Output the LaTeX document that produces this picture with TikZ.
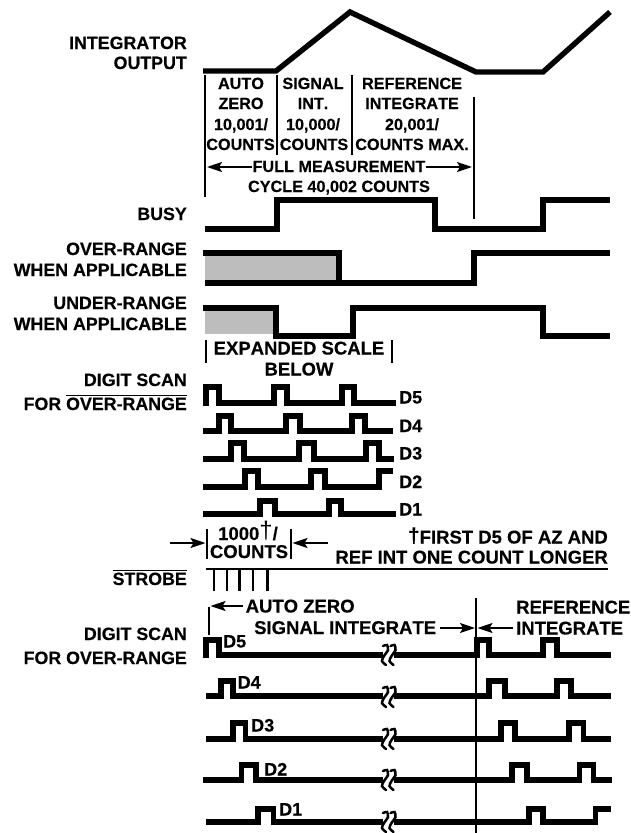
\documentclass[tikz,border=0pt]{standalone}
\usepackage{fontspec}
\setmainfont{Liberation Sans}[Kerning=Off,BoldFeatures={Kerning=Off,FakeBold=0.35}]
\usetikzlibrary{arrows.meta}
\newcommand\ovl[1]{\leavevmode\setbox0\hbox{#1}\rlap{\raisebox{\dimexpr\ht0+1.2pt}{\rule{\wd0}{1.6pt}}}\box0}
\newcommand\brksym[2]{%
  \fill[white] (#1-0.5,#2-4) rectangle (#1+11,#2+4);
  \foreach \dx in {0,7.5}{
    \draw[squig,xshift=\dx pt] plot[smooth] coordinates {(#1+0,#2-9) (#1+4,#2-10) (#1+5,#2-5) (#1+1,#2+1) (#1-1,#2+6) (#1+3,#2+10)};
  }}
\tikzset{
  x=1pt,y=-1pt,
  wave/.style={line width=5.4pt,miter limit=10,join=miter},
  thinv/.style={line width=1.8pt},
  squig/.style={line width=2.5pt,line cap=round},
  strobe/.style={line width=2.8pt},
  darrow/.style={line width=1.8pt,-{Stealth[length=15pt,width=10pt,inset=3pt]}},
  lab/.style={inner sep=0pt,font=\bfseries\fontsize{17.8}{20}\selectfont,anchor=base east},
  head/.style={inner sep=0pt,font=\bfseries\fontsize{16.2}{19}\selectfont,anchor=base},
  txt/.style={inner sep=0pt,font=\bfseries\fontsize{18.5}{20}\selectfont,anchor=base},
  txtl/.style={txt,anchor=base west},
  dname/.style={inner sep=0pt,font=\bfseries\fontsize{18}{20}\selectfont,anchor=base west},
  hatchfill/.style={fill=black!26,draw=none}
}
\begin{document}
\begin{tikzpicture}
\useasboundingbox (0,0) rectangle (631,833);
% left labels
\node[lab] (l1) at (187,49) {INTEGRATOR};
\node[lab] (l2) at (187,69) {OUTPUT};
\node[lab] (l3) at (187,220) {BUSY};
\node[lab] (l4) at (187,255) {OVER-RANGE};
\node[lab] (l5) at (187,276) {WHEN APPLICABLE};
\node[lab] (l6) at (187,309) {UNDER-RANGE};
\node[lab] (l7) at (187,330) {WHEN APPLICABLE};
\node[lab] (l8) at (187,386) {DIGIT SCAN};
\node[lab] (l9) at (187,410) {FOR \ovl{OVER-RANGE}};
\node[lab] (l10) at (187,585) {\ovl{STROBE}};
\node[lab] (l11) at (187,640) {DIGIT SCAN};
\node[lab] (l12) at (187,664) {FOR OVER-RANGE};
% integrator
\draw[wave] (203,71) -- (276,71) -- (350,12) -- (476,72) -- (543,72) -- (610,12);
\draw[thinv] (205,75) -- (205,197);
\draw[thinv] (277,75) -- (277,155);
\draw[thinv] (352,75) -- (352,155);
\draw[thinv] (474,97) -- (474,219);
\node[head] (a1) at (241,89) {AUTO};
\node[head] (a2) at (241,109) {ZERO};
\node[head] (a3) at (241,130) {10,001/};
\node[head] (a4) at (240.5,150) {COUNTS};
\node[head] (b1) at (313,89) {SIGNAL};
\node[head] (b2) at (313,109) {INT.};
\node[head] (b3) at (313,130) {10,000/};
\node[head] (b4) at (314,150) {COUNTS};
\node[head] (c1) at (412,89) {REFERENCE};
\node[head] (c2) at (412,109) {INTEGRATE};
\node[head] (c3) at (412,130) {20,001/};
\node[head] (c4) at (412,150) {COUNTS MAX.};
\node[head] (f1) at (339,172) {FULL MEASUREMENT};
\node[head] (f2) at (339,192) {CYCLE 40,002 COUNTS};
\coordinate (fl) at (207,167);
\coordinate (fr) at (472,167);
\draw[darrow] (f1.west |- fl) -- (fl);
\draw[darrow] (f1.east |- fr) -- (fr);
% busy
\draw[wave] (205,229) -- (277,229) -- (277,200) -- (435,200) -- (435,229) -- (543,229) -- (543,200) -- (610,200);
% over-range
\fill[hatchfill] (205,256) rectangle (336,281);
\draw[wave] (203,253) -- (339,253) -- (339,283) -- (474,283) -- (474,253) -- (610,253);
\draw[wave] (205,283) -- (339,283);
% under-range
\fill[hatchfill] (205,311) rectangle (273,334);
\draw[wave] (203,308) -- (276,308) -- (276,336) -- (353,336) -- (353,308) -- (543,308) -- (543,336) -- (610,336);
% expanded scale
\draw[thinv] (206,340) -- (206,363);
\draw[thinv] (392,340) -- (392,363);
\node[txt] (e1) at (299,354.5) {EXPANDED SCALE};
\node[txt] (e2) at (299,375.5) {BELOW};
% digit scan top
\draw[wave] (206,406) -- (206,387) -- (219,387) -- (219,403) -- (274,403) -- (274,387) -- (287,387) -- (287,403) -- (342,403) -- (342,387) -- (354,387) -- (354,403) -- (396,403);
\draw[wave] (203,431) -- (219,431) -- (219,416) -- (231,416) -- (231,431) -- (286,431) -- (286,416) -- (300,416) -- (300,431) -- (352,431) -- (352,416) -- (365,416) -- (365,431) -- (393,431);
\draw[wave] (203,459) -- (231,459) -- (231,443) -- (244,443) -- (244,459) -- (299,459) -- (299,443) -- (314,443) -- (314,459) -- (366,459) -- (366,443) -- (379,443) -- (379,459) -- (393.5,459);
\draw[wave] (203,487) -- (245,487) -- (245,471) -- (258,471) -- (258,487) -- (311,487) -- (311,471) -- (325,471) -- (325,487) -- (379,487) -- (379,471) -- (393,471);
\draw[wave] (203,514) -- (260,514) -- (260,501) -- (275,501) -- (275,514) -- (329,514) -- (329,501) -- (341,501) -- (341,514) -- (396,514);
\node[dname] (d5) at (399,403.5) {D5};
\node[dname] (d4) at (399,432) {D4};
\node[dname] (d3) at (399,459.5) {D3};
\node[dname] (d2) at (399,488) {D2};
\node[dname] (d1) at (399,515.5) {D1};
% 1000 counts
\node[txt] (k1) at (248,540) {1000\raisebox{1.5pt}{\mdseries\fontsize{24}{24}\selectfont †}/};
\node[txt] (k2) at (249,558) {COUNTS};
\draw[thinv] (207,529) -- (207,559);
\draw[thinv] (291,529) -- (291,559);
\coordinate (kl) at (170,543);
\coordinate (kr) at (328,543);
\draw[darrow] (kl) -- (205.5,543);
\draw[darrow] (kr) -- (292.5,543);
\node[txt,anchor=base east] (n1) at (608,543.5) {\raisebox{1pt}{\fontsize{21}{21}\selectfont †}FIRST D5 OF AZ AND};
\node[txt,anchor=base east] (n2) at (608,563.5) {REF INT ONE COUNT LONGER};
% strobe
\draw[line width=2.6pt] (206,569) -- (608,569);
\foreach \x in {214,227,239.5,253,267.5}{\draw[strobe] (\x,569) -- (\x,591);}
% labels lower
\draw[thinv] (209,607) -- (209,635);
\node[txtl] (z1) at (245.5,612.5) {AUTO ZERO};
\node[txtl] (z2) at (254,634) {SIGNAL INTEGRATE};
\node[txtl] (z3) at (516,613.5) {REFERENCE};
\node[txtl] (z4) at (516,634.5) {INTEGRATE};
\coordinate (q1) at (210.5,606);
\coordinate (q2) at (475,628);
\coordinate (q3) at (477.5,628);
\draw[darrow] (243,606) -- (q1);
\draw[darrow] (440,628) -- (q2);
\draw[darrow] (513,628) -- (q3);
% digit scan lower
\draw[wave] (206,658) -- (206,640) -- (219,640) -- (219,655) -- (477,655) -- (477,640) -- (489,640) -- (489,655) -- (543,655) -- (543,640) -- (557,640) -- (557,655) -- (611,655);
\draw[wave] (206,696) -- (221,696) -- (221,681) -- (233,681) -- (233,696) -- (489,696) -- (489,681) -- (505,681) -- (505,696) -- (557,696) -- (557,681) -- (571,681) -- (571,696) -- (611,696);
\draw[wave] (206,739) -- (233,739) -- (233,723) -- (245.5,723) -- (245.5,739) -- (501,739) -- (501,723) -- (515,723) -- (515,739) -- (569,739) -- (569,723) -- (583.5,723) -- (583.5,739) -- (611,739);
\draw[wave] (203,780) -- (241.5,780) -- (241.5,765) -- (256,765) -- (256,780) -- (512,780) -- (512,765) -- (527,765) -- (527,780) -- (579.5,780) -- (579.5,765) -- (593.5,765) -- (593.5,780) -- (612,780);
\draw[wave] (206,822) -- (258,822) -- (258,809) -- (273.5,809) -- (273.5,822) -- (529,822) -- (529,809) -- (543,809) -- (543,822) -- (595.5,822) -- (595.5,809) -- (611,809);
\brksym{383}{655}
\brksym{383}{697}
\brksym{383}{739}
\brksym{383}{780}
\brksym{383}{822}
\draw[thinv] (476,598) -- (476,833);
\node[dname] (m5) at (223,647.5) {D5};
\node[dname] (m4) at (237.5,688.5) {D4};
\node[dname] (m3) at (251,731.5) {D3};
\node[dname] (m2) at (264,775.5) {D2};
\node[dname] (m1) at (279,815.5) {D1};
\end{tikzpicture}
\end{document}
